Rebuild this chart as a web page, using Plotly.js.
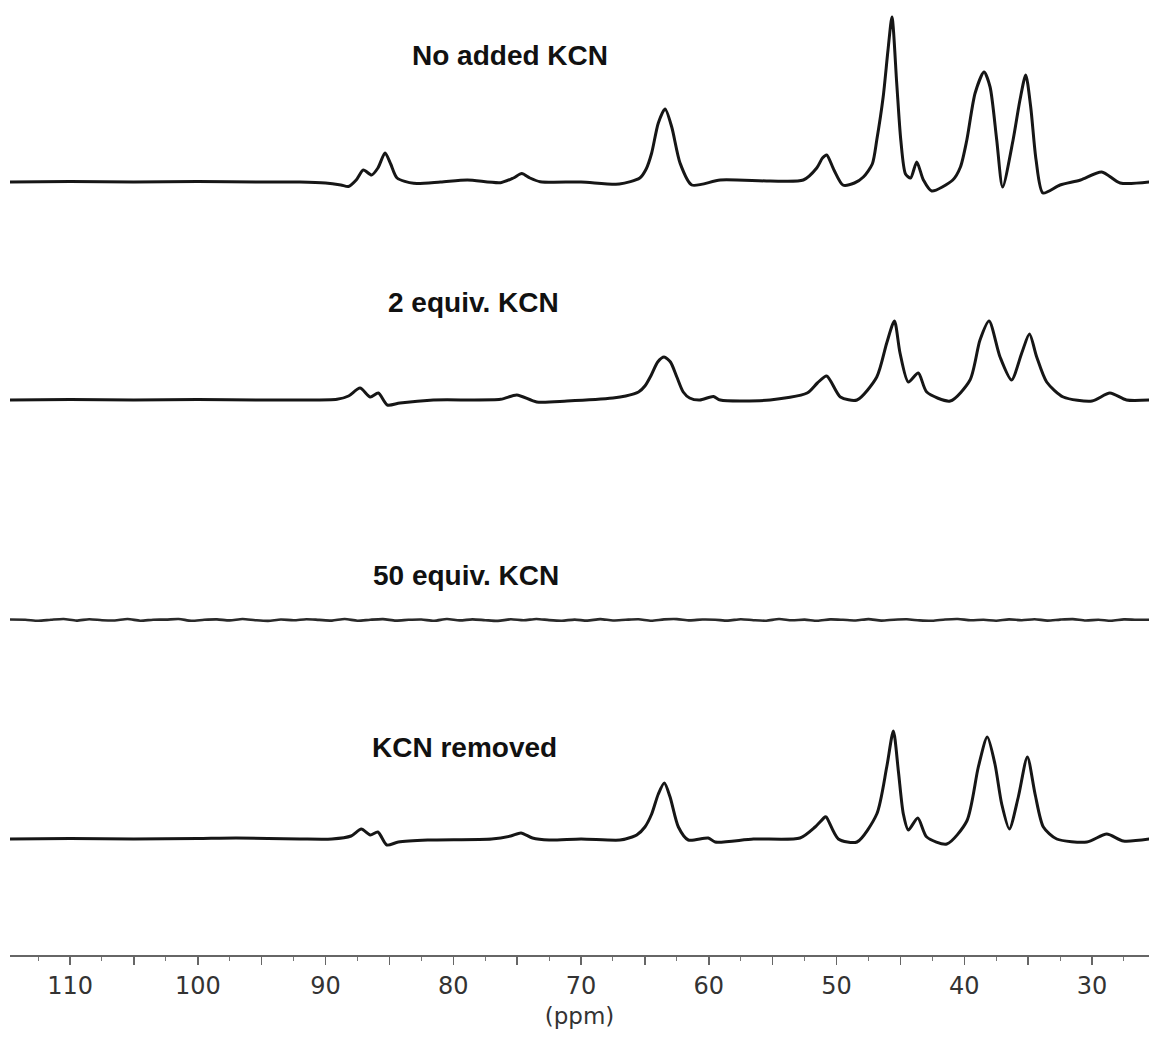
<!DOCTYPE html>
<html>
<head>
<meta charset="utf-8">
<script src="https://cdn.plot.ly/plotly-3.0.1.min.js"></script>
<style>html,body{margin:0;padding:0;background:#fff;}#chart{width:1149px;height:1045px;}</style>
</head>
<body>
<div id="chart"></div>
<script>
// Chemical shift (ppm) and intensity, per spectrum
const ppmNoKCN = [114.7,110,105,100,95,92,90,88.8,88.2,87.6,87.04,86.4,85.9,85.34,84.9,84.4,83.1,81,78.9,76.3,75.3,74.64,74,73.2,70,67,65.4,64.9,64.47,63.95,63.42,62.9,62.25,61.33,59.1,55.2,52.6,51.55,51.1,50.77,50.2,49.5,48.6,47.9,47.2,46.85,46.35,45.97,45.66,45.29,44.97,44.6,44.2,43.72,43.2,42.55,40.9,40.3,39.8,39.15,38.45,37.98,37.46,37.0,36.18,35.64,35.19,34.8,34.38,33.84,32.5,30.9,29.24,27.8,25.5];
const intNoKCN = [0,0.5,0,0.5,0,0,-1,-3,-4.5,2,12,7,14,29,18,4,-1.3,0,2,-0.7,4,8.5,4,0.3,0,-2,4,13,29,59,73,55,19,-3,2,1,2,14,24,27,12,-3,-1,5,18,42,85,132,165,99,42,8,4,20,2,-9,2,15,42,89,110,95,42,-5,42,82,107,75,22,-11,-3,2,10,-1,0];

const ppm2eq = [114.7,110,105,100,95,92,89.1,88.2,87.3,86.5,85.87,85.16,84.17,81.56,76.3,75.03,73.47,71.1,67.5,66.5,65.5,65,64.5,64,63.5,63,62.5,62,61.5,60.7,59.64,59.1,55.2,52.3,51.5,50.77,49.7,48.4,46.85,46.07,45.47,45.03,44.38,43.6,42.94,41.1,39.55,38.77,38.06,37.2,36.3,35.5,34.9,34.33,33.55,32.25,30.0,28.6,27.3,25.5];
const int2eq = [0,0.5,0,0.5,0,0,0.7,4,12,3,7,-5,-3,0,0.7,5,-2,-1,2,4,8,14,25,38,43,38,23,8,2,0,3.5,0,0,7,17,24,3,0,23,57,79,47,18,27,8,-1,20,60,79,43,20,47,66,43,18,3,-1,7,0,0];

const ppm50eq = [114.7,113.5,112.5,111.5,110.5,109.5,108.5,107.5,106.5,105.5,104.5,103.5,102.5,101.5,100.5,99.5,98.5,97.5,96.5,95.5,94.5,93.5,92.5,91.5,90.5,89.5,88.5,87.5,86.5,85.5,84.5,83.5,82.5,81.5,80.5,79.5,78.5,77.5,76.5,75.5,74.5,73.5,72.5,71.5,70.5,69.5,68.5,67.5,66.5,65.5,64.5,63.5,62.5,61.5,60.5,59.5,58.5,57.5,56.5,55.5,54.5,53.5,52.5,51.5,50.5,49.5,48.5,47.5,46.5,45.5,44.5,43.5,42.5,41.5,40.5,39.5,38.5,37.5,36.5,35.5,34.5,33.5,32.5,31.5,30.5,29.5,28.5,27.5,26.5,25.5];
const int50eq = [0.5,0.3,-0.8,0.2,1,-0.6,0.8,-0.2,-0.5,1,-0.7,0.3,0.4,1,-0.8,0.2,0.6,-0.4,1,-0.2,-0.9,0.5,-0.3,0.8,0.1,-0.6,1,-0.7,0.3,0.9,-0.6,0.2,0.5,-0.8,1,-0.4,0.6,-0.2,-0.9,0.7,-0.3,1,-0.1,-0.7,0.4,-0.6,0.9,-0.5,0.2,0.7,-0.8,0.6,0.9,-0.4,0.5,0.3,-0.6,0.8,-0.2,-0.7,1,-0.3,0.4,-0.8,0.6,0.2,-0.5,0.9,-0.6,0.3,0.7,-0.4,-0.8,0.5,1,-0.3,0.2,-0.7,0.6,-0.2,0.8,-0.6,0.4,0.9,-0.5,0.3,-0.7,0.6,0.2,0.3];

const ppmRemoved = [114.7,110,105,100,97,92,89.5,88,87.2,86.5,85.9,85.2,84.3,82,77,75.5,74.7,73.8,72.5,70,66.95,66,65.64,65,64.47,63.95,63.48,63.03,62.38,61.6,60.04,59.5,56.5,52.86,51.68,50.9,50.8,49.86,48.4,46.85,46.07,45.55,45.16,44.77,44.38,43.64,42.94,41.37,39.8,38.9,38.2,37.6,37.07,36.47,35.77,35.06,34.46,33.81,32.76,30.4,28.85,27.55,25.5];
const intRemoved = [0,0.5,0,0.5,1,0,0,3,10,4,7,-6,-3,-1,0,3,6,1,-1,0,-1,2,4,12,25,45,56,42,12,-1,1,-3,0,1,12,22,22,0,-3,25,72,108,68,25,9,21,2,-5,18,72,102,75,35,10,42,82,45,12,0,-3,5,-2,0];

const spectra = [
  {name:'No added KCN', x:ppmNoKCN, y:intNoKCN},
  {name:'2 equiv. KCN', x:ppm2eq, y:int2eq},
  {name:'50 equiv. KCN', x:ppm50eq, y:int50eq},
  {name:'KCN removed', x:ppmRemoved, y:intRemoved}
];
const tickVals = [110,105,100,95,90,85,80,75,70,65,60,55,50,45,40,35,30];
const tickText = ['110','','100','','90','','80','','70','','60','','50','','40','','30'];
const axisTitle = '(ppm)';

// vertical stacking offsets and label anchors (layout only)
const offsets = [773, 555, 335, 116];
const labelPos = [[75.56, 900],[78.4, 653],[79.0, 380],[79.1, 208]];

const traces = spectra.map((s, i) => ({
  type:'scatter', mode:'lines', name:s.name,
  x:s.x, y:s.y.map(v => v + offsets[i]),
  line:{color: i === 2 ? '#2a2a2a' : '#161616', width: i === 2 ? 2.6 : 3, shape:'spline', smoothing:0.7},
  hoverinfo:'skip', showlegend:false
}));

const annotations = spectra.map((s, i) => ({
  x:labelPos[i][0], y:labelPos[i][1], xref:'x', yref:'y',
  text:'<b>' + s.name + '</b>', showarrow:false,
  font:{family:'Liberation Sans, Arial, sans-serif', size:28, color:'#111'}
}));

const layout = {
  width:1149, height:1045,
  margin:{l:10, r:0, t:0, b:90},
  paper_bgcolor:'#fff', plot_bgcolor:'#fff',
  showlegend:false,
  xaxis:{
    range:[114.7, 25.54], showgrid:false, zeroline:false,
    showline:true, linecolor:'#666', linewidth:2,
    tickmode:'array', tickvals:tickVals, ticktext:tickText,
    ticks:'outside', ticklen:8, tickwidth:1.5, tickcolor:'#666',
    ticklabelstandoff:0,
    minor:{tickmode:'linear', tick0:0, dtick:2.5, ticks:'outside', ticklen:4, tickcolor:'#777', tickwidth:1},
    tickfont:{family:'DejaVu Sans, Verdana, sans-serif', size:24, color:'#333'},
    title:{text:axisTitle, font:{family:'DejaVu Sans, Verdana, sans-serif', size:23, color:'#333'}, standoff:9}
  },
  yaxis:{range:[0, 955], visible:false, fixedrange:true},
  annotations:annotations
};

Plotly.newPlot('chart', traces, layout, {displayModeBar:false, staticPlot:true});
</script>
</body>
</html>
